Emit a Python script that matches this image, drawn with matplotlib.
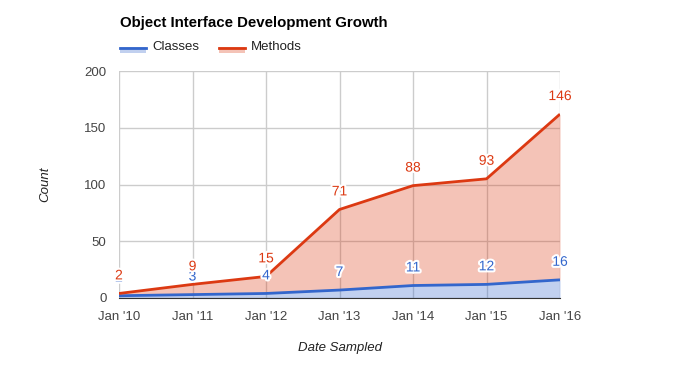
import matplotlib.pyplot as plt
import matplotlib.patheffects as pe
import numpy as np

plt.rcParams['font.family'] = ['Liberation Sans', 'DejaVu Sans']

dates = ["Jan '10", "Jan '11", "Jan '12", "Jan '13", "Jan '14", "Jan '15", "Jan '16"]
classes = [2, 3, 4, 7, 11, 12, 16]
methods = [2, 9, 15, 71, 88, 93, 146]

blue = "#3366cc"
red = "#dc3912"

x = np.arange(len(dates))
cls = np.array(classes)
top = cls + np.array(methods)  # stacked

fig = plt.figure(figsize=(6.81, 3.70), dpi=100)
ax = fig.add_axes([119 / 681, 72 / 370, 441 / 681, 227 / 370])

ax.fill_between(x, 0, cls, color=blue, alpha=0.3, lw=0)
ax.fill_between(x, cls, top, color=red, alpha=0.3, lw=0)
ax.plot(x, cls, color=blue, lw=2, solid_capstyle='butt')
ax.plot(x, top, color=red, lw=2, solid_capstyle='butt')

halo = [pe.withStroke(linewidth=3, foreground="white")]
for xi, c, t, cv, mv in zip(x, cls, top, classes, methods):
    ax.annotate(str(cv), (xi, c), xytext=(0, 13), textcoords="offset points",
                ha="center", va="center", color=blue, fontsize=10, path_effects=halo)
    ax.annotate(str(mv), (xi, t), xytext=(0, 13), textcoords="offset points",
                ha="center", va="center", color=red, fontsize=10, path_effects=halo)

ax.set_xlim(0, len(dates) - 1)
ax.set_ylim(0, 200)
ax.set_xticks(x)
ax.set_xticklabels(dates)
ax.set_yticks([0, 50, 100, 150, 200])
ax.grid(True, color="#cccccc", lw=1)
ax.set_axisbelow(True)
for s in ["top", "right", "left"]:
    ax.spines[s].set_visible(False)
ax.spines["bottom"].set_color("#333333")
ax.spines["bottom"].set_zorder(5)
ax.tick_params(length=0, labelsize=9.5, colors="#444444", pad=9)
ax.tick_params(axis="x", pad=9.5)

ax.set_ylabel("Count", fontstyle="italic", fontsize=9.5, color="#222222", labelpad=24)
ax.set_xlabel("Date Sampled", fontstyle="italic", fontsize=9.5, color="#222222", labelpad=13.5)

fig.text(120 / 681, 1 - 23 / 370, "Object Interface Development Growth",
         fontsize=10.8, fontweight="bold", va="center", ha="left")

# legend
for lx, col, name in [(120, blue, "Classes"), (219, red, "Methods")]:
    fig.patches.append(plt.Rectangle((lx / 681, 1 - 53 / 370), 26 / 681, 6 / 370,
                                     transform=fig.transFigure, color=col, alpha=0.3, lw=0))
    fig.lines.append(plt.Line2D([lx / 681, (lx + 26) / 681], [1 - 47.5 / 370] * 2,
                                transform=fig.transFigure, color=col, lw=2))
    fig.text((lx + 32) / 681, 1 - 47 / 370, name, fontsize=9.5, color="#222222",
             va="center", ha="left")

plt.savefig("out.png")
